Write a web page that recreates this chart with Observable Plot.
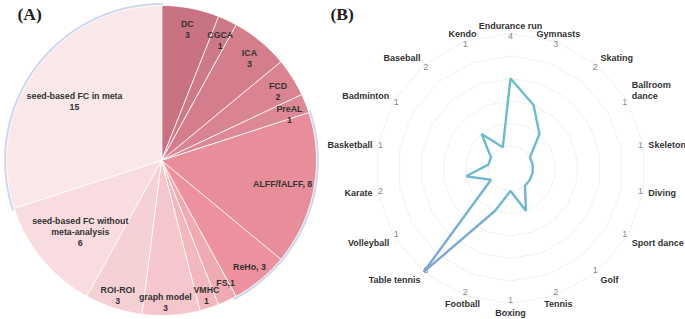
<!DOCTYPE html>
<html><head><meta charset="utf-8">
<script src="https://cdn.jsdelivr.net/npm/d3@7"></script>
<script src="https://cdn.jsdelivr.net/npm/@observablehq/plot@0.6"></script>
<style>
html,body{margin:0;padding:0;background:#fff;}
#wrap{display:flex;width:685px;height:319px;overflow:hidden;}
#wrap svg{display:block;}
</style></head><body><div id="wrap"></div>
<script>
// ---------- Panel A data ----------
const pieCategories = ["DC","CGCA","ICA","FCD","PreAL","ALFF/fALFF","ReHo","FS","VMHC","graph model","ROI-ROI","seed-based FC without meta-analysis","seed-based FC in meta"];
const pieValues = [3,1,3,2,1,8,3,1,1,3,3,6,15];
const pieLabels = ["DC\n3","CGCA\n1","ICA\n3","FCD\n2","PreAL\n1","ALFF/fALFF, 8","ReHo, 3","FS,1","VMHC\n1","graph model\n3","ROI-ROI\n3","seed-based FC without\nmeta-analysis\n6","seed-based FC in meta\n15"];
const pieColors = ["#c87282","#cd7987","#d47e8c","#da8391","#df8895","#e88d9a","#ec919d","#f0aab2","#f2b8be","#f5c6cb","#f6d1d4","#f8dcdf","#fae7e9"];

// ---------- Panel B data ----------
const sports = ["Endurance run","Gymnasts","Skating","Ballroom dance","Skeleton","Diving","Sport dance","Golf","Tennis","Boxing","Football","Table tennis","Volleyball","Karate","Basketball","Badminton","Baseball","Kendo"];
const sportLabels = ["Endurance run","Gymnasts","Skating","Ballroom\ndance","Skeleton","Diving","Sport dance","Golf","Tennis","Boxing","Football","Table tennis","Volleyball","Karate","Basketball","Badminton","Baseball","Kendo"];
const sportCounts = [4,3,2,1,1,1,1,1,2,1,2,6,1,2,1,1,2,1];
const ringLevels = [1,2,3,4,5,6];

const FONT = "'Liberation Sans', Arial, Helvetica, sans-serif";
const H = 319;

// ===== Panel A: pie =====
const W1 = 330, pieCx = 161, pieCy = 160, pieR = 155;
const total = d3.sum(pieValues);
let cum = 0;
const slices = pieCategories.map((c, i) => {
  const a0 = cum / total * 2 * Math.PI; cum += pieValues[i];
  const a1 = cum / total * 2 * Math.PI;
  return {c, v: pieValues[i], a0, a1, label: pieLabels[i]};
});
const wedgePts = slices.flatMap(s => {
  const pts = [{c: s.c, x: 0, y: 0}];
  const n = Math.max(2, Math.ceil((s.a1 - s.a0) / (Math.PI / 180)));
  for (let k = 0; k <= n; k++) {
    const a = s.a0 + (s.a1 - s.a0) * k / n;
    pts.push({c: s.c, x: Math.sin(a), y: Math.cos(a)});
  }
  return pts;
});
// soft rim (shadow) along parts of the outer edge
const rimArcs = [[72, 152], [252, 360]];
const rimPts = rimArcs.flatMap(([d0, d1], j) => d3.range(d0, d1 + 0.5, 1).map(d => {
  const a = d * Math.PI / 180; return {j, x: 1.004 * Math.sin(a), y: 1.004 * Math.cos(a)};
}));
// label layout: near the edge for small slices, fitted inside for wide labels
const ctx = document.createElement("canvas").getContext("2d");
ctx.font = `bold 8.8px ${FONT}`;
function fitRadius(ux, uy, hw, hh, Rlim) {
  let lo = 0, hi = Rlim;
  for (let it = 0; it < 40; it++) {
    const r = (lo + hi) / 2, cx = r * ux, cy = r * uy;
    const ok = [[-1,-1],[1,-1],[-1,1],[1,1]].every(([sx, sy]) => Math.hypot(cx + sx * hw, cy + sy * hh) <= Rlim);
    if (ok) lo = r; else hi = r;
  }
  return lo;
}
const placed = slices.map(s => {
  const lines = s.label.split("\n");
  const hw = d3.max(lines, l => ctx.measureText(l).width) / 2;
  const hh = (11 * (lines.length - 1) + 7) / 2;      // glyph extent
  const hb = (11 * (lines.length - 1) + 12) / 2;     // line-box extent
  const a = (s.a0 + s.a1) / 2;
  const r = Math.min(0.89 * pieR, fitRadius(Math.sin(a), -Math.cos(a), hw, hh, pieR - 2));
  const drop = lines.length > 1 ? 4 : 0; // multi-line blocks sit a little lower
  return {text: s.label, hw, hb, a, r, drop};
});
const posOf = p => ({px: p.r * Math.sin(p.a), py: -p.r * Math.cos(p.a) + p.drop});
const overlaps = (p, q) => {
  const A = posOf(p), B = posOf(q);
  return Math.abs(A.px - B.px) < p.hw + q.hw + 4 && Math.abs(A.py - B.py) < p.hb + q.hb;
};
// resolve collisions between neighbouring labels by turning them apart
const step = 0.5 * Math.PI / 180;
for (let i = 1; i < placed.length; i++) {
  let k = 0;
  while (overlaps(placed[i - 1], placed[i]) && k++ < 40) {
    if (k % 2) placed[i - 1].a -= step; else placed[i].a += step;
  }
}
const pieLabelData = placed.map(p => { const {px, py} = posOf(p); return {text: p.text, x: px / pieR, y: -py / pieR}; });

const plotA = Plot.plot({
  width: W1, height: H, margin: 0,
  style: {background: "transparent", fontFamily: FONT, overflow: "visible"},
  x: {axis: null, domain: [-pieCx / pieR, (W1 - pieCx) / pieR]},
  y: {axis: null, domain: [-(H - pieCy) / pieR, pieCy / pieR]},
  color: {domain: pieCategories, range: pieColors},
  marks: [
    Plot.line(rimPts, {x: "x", y: "y", z: "j", stroke: "#c5d1e8", strokeWidth: 3.6, strokeOpacity: 0.85}),
    Plot.line(wedgePts, {x: "x", y: "y", z: "c", fill: "c", stroke: "white", strokeWidth: 0.9, curve: "linear-closed", strokeLinejoin: "miter"}),
    Plot.text(pieLabelData, {x: "x", y: "y", text: "text", fontSize: 8.8, fontWeight: "bold", fill: "#333", lineHeight: 1.25, textAnchor: "middle", lineAnchor: "middle"}),
    Plot.text(["(A)"], {frameAnchor: "top-left", text: d => d, dx: 17, dy: 7, fontSize: 17.5, fontWeight: "bold", fontFamily: "'Liberation Serif', 'Times New Roman', serif", fill: "#222", textAnchor: "start", lineAnchor: "top"})
  ]
});

// ===== Panel B: radar =====
const W2 = 355, radCx = 180, radCy = 168, unit = 22.5;
const N = sports.length;
const ang = i => i / N * 2 * Math.PI;
const radarPts = sports.map((s, i) => ({s, x: sportCounts[i] * Math.sin(ang(i)), y: sportCounts[i] * Math.cos(ang(i))}));
const ringPts = ringLevels.flatMap(k => sports.map((s, i) => ({k, x: k * Math.sin(ang(i)), y: k * Math.cos(ang(i))})));
const maxLevel = d3.max(ringLevels);
const nameR = maxLevel + 5 / unit, numR = maxLevel - 3 / unit;
const nameData = sports.map((s, i) => {
  const a = ang(i), sn = Math.sin(a), cs = Math.cos(a);
  return {text: sportLabels[i], x: nameR * sn, y: nameR * cs,
    anchor: Math.abs(sn) < 0.5 ? "middle" : sn > 0 ? "start" : "end",
    line: cs > 0.3 ? "bottom" : cs < -0.3 ? "top" : "middle"};
});
const numData = sports.map((s, i) => ({text: String(sportCounts[i]), x: numR * Math.sin(ang(i)), y: numR * Math.cos(ang(i))}));
const nameMarks = [];
for (const anchor of ["start", "middle", "end"]) for (const line of ["top", "middle", "bottom"]) {
  const sub = nameData.filter(d => d.anchor === anchor && d.line === line);
  if (sub.length) nameMarks.push(Plot.text(sub, {x: "x", y: "y", text: "text", textAnchor: anchor, lineAnchor: line, fontSize: 9, fontWeight: "bold", fill: "#333", lineHeight: 1.15}));
}
const gradDefs = () => {
  const defs = d3.create("svg:defs");
  const g = defs.append("linearGradient").attr("id", "radarGrad").attr("x1", 0).attr("y1", 0).attr("x2", 0).attr("y2", 1);
  g.append("stop").attr("offset", "0%").attr("stop-color", "#68c1c6");
  g.append("stop").attr("offset", "55%").attr("stop-color", "#6fb8d0");
  g.append("stop").attr("offset", "100%").attr("stop-color", "#7ca6da");
  return defs.node();
};
const plotB = Plot.plot({
  width: W2, height: H, margin: 0,
  style: {background: "transparent", fontFamily: FONT, overflow: "visible"},
  x: {axis: null, domain: [-radCx / unit, (W2 - radCx) / unit]},
  y: {axis: null, domain: [-(H - radCy) / unit, radCy / unit]},
  marks: [
    gradDefs,
    Plot.line(ringPts, {x: "x", y: "y", z: "k", curve: "linear-closed", stroke: "#e6e6e6", strokeWidth: 0.9, strokeDasharray: "1,1.6"}),
    Plot.text(numData, {x: "x", y: "y", text: "text", fontSize: 9, fill: "#8a8a8a"}),
    Plot.line(radarPts, {x: "x", y: "y", curve: "linear-closed", stroke: "url(#radarGrad)", strokeWidth: 2.4, strokeLinejoin: "miter"}),
    ...nameMarks,
    Plot.text(["(B)"], {frameAnchor: "top-left", text: d => d, dx: 0, dy: 7, fontSize: 17.5, fontWeight: "bold", fontFamily: "'Liberation Serif', 'Times New Roman', serif", fill: "#222", textAnchor: "start", lineAnchor: "top"})
  ]
});

const wrap = document.getElementById("wrap");
wrap.append(plotA, plotB);
</script></body></html>
